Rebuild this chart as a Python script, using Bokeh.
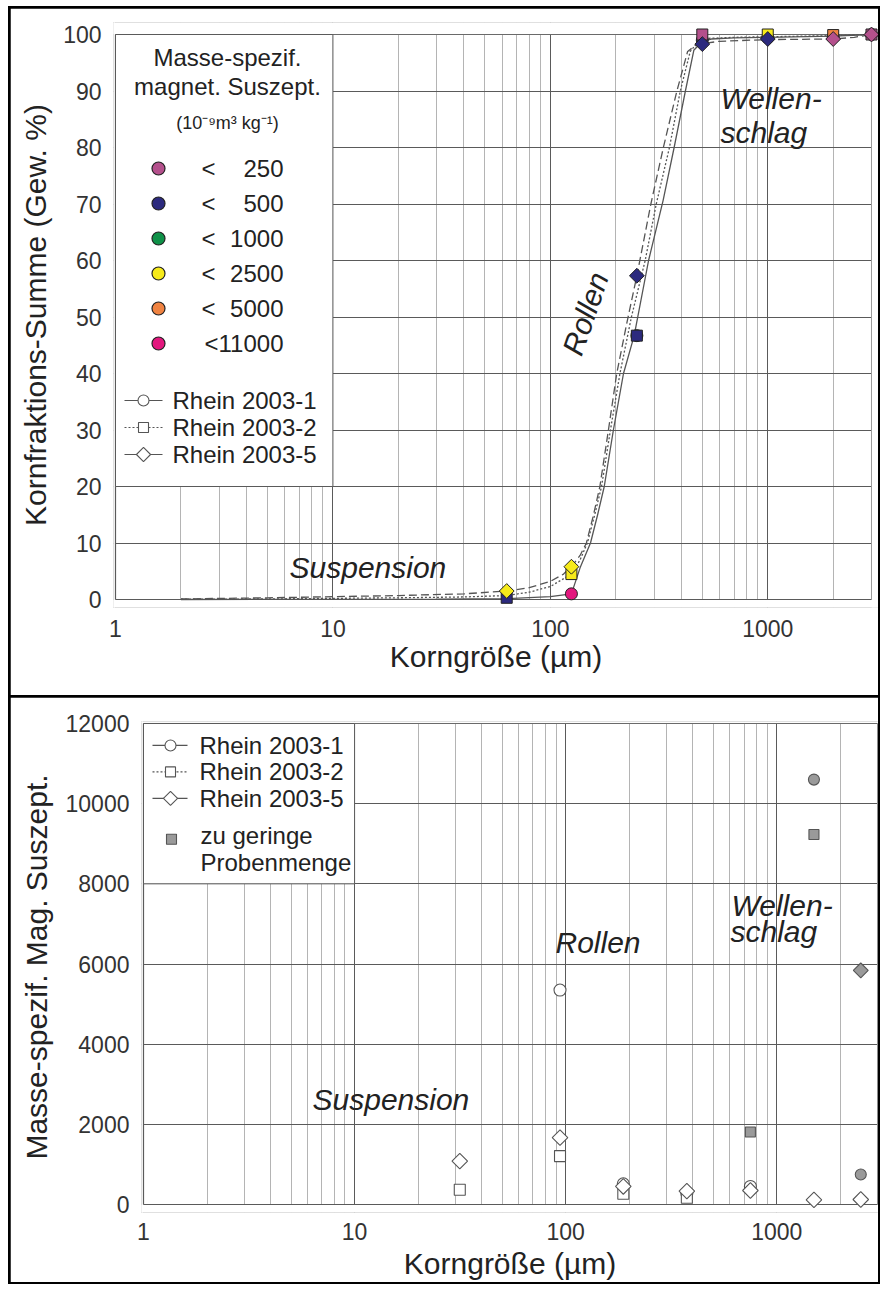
import numpy as np
from bokeh.plotting import figure
from bokeh.models import FixedTicker, NumeralTickFormatter, Range1d, Label
from bokeh.layouts import column, row
from bokeh.embed import file_html
from bokeh.resources import INLINE

FONT = "Liberation Sans"

# ---------------- data ----------------
class_limits = ["250", "500", "1000", "2500", "5000", "11000"]
class_colors = ["#b4508c", "#2c2a7e", "#0f9148", "#f6ea1a", "#f08341", "#e3177e"]
series_names = ["Rhein 2003-1", "Rhein 2003-2", "Rhein 2003-5"]

# cumulative curves (upper panel)
curve1_x = [2, 10, 30, 63, 100, 125, 137, 153, 165, 177, 195, 217, 243, 283, 330, 371, 418, 457, 500, 550, 700, 1000, 2000, 3000]
curve1_y = [0, 0.02, 0.05, 0.15, 0.5, 1.0, 5.6, 10, 15, 20, 30, 40, 46.7, 60, 70.6, 80, 90, 97.2, 98.8, 99.2, 99.4, 99.5, 99.7, 100]
curve2_x = [2, 5, 10, 20, 40, 63, 80, 100, 125, 137, 148, 160, 172, 189, 209, 236, 273, 307, 353, 396, 440, 480, 520, 700, 1000, 2000, 3000]
curve2_y = [0.05, 0.1, 0.2, 0.3, 0.45, 0.7, 1.3, 2.3, 4.5, 7, 10, 15, 20, 30, 40, 50, 60, 70, 80, 90, 97, 98.8, 99.3, 99.5, 99.6, 99.8, 100]
curve5_x = [2, 5, 10, 20, 40, 63, 80, 100, 115, 125, 137, 146.5, 158, 169, 185, 202, 225, 250, 290, 331, 382, 428, 470, 500, 600, 1000, 2000, 2500, 3000]
curve5_y = [0.1, 0.3, 0.5, 0.7, 1.0, 1.5, 2.1, 3.2, 4.5, 5.8, 7.8, 10, 15, 20, 30, 40, 49, 57.3, 70, 80, 90, 97, 98.2, 98.4, 98.8, 99.1, 99.2, 99.5, 100]

# sieve points (upper panel)
r1_top_x = [125, 250, 500, 1000, 2000, 3000]
r1_top_y = [1.0, 46.7, 99.0, 99.4, 99.6, 100.0]
r1_top_cls = ["11000", "1000", "500", "500", "11000", "250"]
r2_top_x = [63, 125, 250, 500, 1000, 2000, 3000]
r2_top_y = [0.3, 4.5, 46.7, 100.0, 100.0, 99.9, 100.0]
r2_top_cls = ["500", "2500", "500", "250", "2500", "5000", "250"]
r5_top_x = [63, 125, 250, 500, 1000, 2000, 3000]
r5_top_y = [1.5, 5.8, 57.3, 98.3, 99.2, 99.2, 100.0]
r5_top_cls = ["2500", "2500", "500", "500", "500", "250", "250"]

# lower panel: susceptibility per fraction (open = normal, grey = too little sample)
r1_bot_x = [94, 187.5, 375, 750]
r1_bot_y = [5350, 517, 283, 450]
r1_low_x = [1500, 2500]
r1_low_y = [10600, 750]
r2_bot_x = [31.5, 94, 187.5, 375]
r2_bot_y = [367, 1208, 267, 167]
r2_low_x = [750, 1500]
r2_low_y = [1810, 9230]
r5_bot_x = [31.5, 94, 187.5, 375, 750, 1500, 2500]
r5_bot_y = [1083, 1667, 450, 333, 350, 117, 125]
r5_low_x = [2500]
r5_low_y = [5840]

x_ticks = [1, 10, 100, 1000]
x_minor = [2, 3, 4, 5, 6, 7, 8, 9, 20, 30, 40, 50, 60, 70, 80, 90,
           200, 300, 400, 500, 600, 700, 800, 900, 2000, 3000]
top_yticks = [0, 10, 20, 30, 40, 50, 60, 70, 80, 90, 100]
bot_yticks = [0, 2000, 4000, 6000, 8000, 10000, 12000]

GRID_MAJOR = "#5a5a5a"
GRID_MINOR = "#b4b4b4"
LINE = "#555555"
DIAMOND = np.pi / 4


def colors_for(cls):
    return [class_colors[class_limits.index(c)] for c in cls]


def style(p, yticks, xtitle, ytitle, xl_standoff, xt_standoff, yt_standoff):
    p.outline_line_color = None
    p.background_fill_color = "white"
    p.border_fill_color = "white"
    try:
        p.frame_align = False
    except Exception:
        pass
    xt = FixedTicker(ticks=x_ticks, minor_ticks=x_minor)
    yt = FixedTicker(ticks=yticks)
    p.xaxis.ticker = xt
    p.xgrid.ticker = xt
    p.yaxis.ticker = yt
    p.ygrid.ticker = yt
    p.xaxis.formatter = NumeralTickFormatter(format="0")
    p.xgrid.grid_line_color = GRID_MAJOR
    p.xgrid.minor_grid_line_color = GRID_MINOR
    p.ygrid.grid_line_color = GRID_MAJOR
    for ax in [p.xaxis[0], p.yaxis[0]]:
        ax.axis_line_color = None
        ax.major_tick_line_color = None
        ax.minor_tick_line_color = None
        ax.major_tick_out = 0
        ax.major_tick_in = 0
        ax.minor_tick_out = 0
        ax.minor_tick_in = 0
        ax.major_label_text_font = FONT
        ax.major_label_text_font_size = "23px"
        ax.major_label_text_color = "#333333"
        ax.axis_label_text_font = FONT
        ax.axis_label_text_font_size = "30px"
        ax.axis_label_text_font_style = "normal"
        ax.axis_label_text_color = "#222222"
    p.xaxis.axis_label = xtitle
    p.yaxis.axis_label = ytitle
    p.xaxis.major_label_standoff = xl_standoff
    p.xaxis.axis_label_standoff = xt_standoff
    p.yaxis.major_label_standoff = 12
    p.yaxis.axis_label_standoff = yt_standoff


def frame(p, x0, x1, y0, y1, right_color):
    # white covers outside the data frame (range is padded so edge markers are not cut)
    big = dict(fill_color="white", line_color=None)
    p.quad(left=x0 / 2, right=x1 * 2, bottom=y0 - (y1 - y0), top=y0, **big)
    p.quad(left=x0 / 2, right=x1 * 2, bottom=y1, top=y1 + (y1 - y0), **big)
    p.quad(left=x1, right=x1 * 2, bottom=y0 - (y1 - y0), top=y1 + (y1 - y0), **big)
    p.quad(left=x0 / 2, right=x0, bottom=y0 - (y1 - y0), top=y1 + (y1 - y0), **big)
    p.line([x0, x1], [y0, y0], line_color=GRID_MAJOR, line_width=1.2)
    p.line([x0, x1], [y1, y1], line_color="#6a6a6a", line_width=1)
    p.line([x0, x0], [y0, y1], line_color=GRID_MAJOR, line_width=1.2)
    p.line([x1, x1], [y0, y1], line_color=right_color, line_width=1)


def txt(p, x, y, text, size="24px", align="left", style_="normal", angle=0, color="#222222"):
    p.add_layout(Label(x=x, y=y, text=text, text_font=FONT, text_font_size=size,
                       text_align=align, text_baseline="middle", text_font_style=style_,
                       angle=angle, angle_units="deg", text_color=color))


# ================= upper panel =================
# page px: frame x 1 -> 115, 3000 -> 871 ; y 100 -> 34, 0 -> 599
p1 = figure(width=868, height=687, x_axis_type="log",
            x_range=Range1d(10 ** (-2 / 217.42), 10 ** (763 / 217.42)),
            y_range=Range1d(-8 / 5.65, 100 + 12 / 5.65),
            output_backend="svg", toolbar_location=None,
            min_border_left=103, min_border_right=0, min_border_top=14, min_border_bottom=88)
style(p1, top_yticks, "Korngröße (µm)", "Kornfraktions-Summe (Gew. %)", 12, 0, 8)
frame(p1, 1, 3000, 0, 100, "#9a9a9a")


def tx(px):
    return 10 ** ((px - 115) / 217.42)


def ty(py):
    return (599 - py) / 5.65


# legend box
p1.quad(left=1, right=10, bottom=20, top=100, fill_color="white", line_color=GRID_MAJOR, line_width=1)

# curves
p1.line(curve1_x, curve1_y, line_color=LINE, line_width=1.3)
p1.line(curve2_x, curve2_y, line_color=LINE, line_width=1.3, line_dash="2 2")
p1.line(curve5_x, curve5_y, line_color=LINE, line_width=1.3, line_dash="8 4")

# sieve markers
p1.scatter(r1_top_x, r1_top_y, marker="circle", size=12, fill_color=colors_for(r1_top_cls),
           line_color="#222222", line_width=1)
p1.scatter(r2_top_x, r2_top_y, marker="square", size=11, fill_color=colors_for(r2_top_cls),
           line_color="#222222", line_width=1)
p1.scatter(r5_top_x, r5_top_y, marker="square", angle=DIAMOND, size=10.5,
           fill_color=colors_for(r5_top_cls), line_color="#222222", line_width=1)

# legend content
txt(p1, tx(227), ty(57), "Masse-spezif.", align="center")
txt(p1, tx(227), ty(86), "magnet. Suszept.", align="center")
txt(p1, tx(227), ty(122), "(10⁻⁹m³ kg⁻¹)", size="18px", align="center")
row_y = [ty(168 + i * 35) for i in range(len(class_limits))]
p1.scatter([tx(158)] * len(class_limits), row_y, marker="circle", size=13,
           fill_color=class_colors, line_color="#222222", line_width=1.2)
for i, lim in enumerate(class_limits):
    if len(lim) < 5:
        txt(p1, tx(201), row_y[i], "<")
        txt(p1, tx(283), row_y[i], lim, align="right")
    else:
        txt(p1, tx(283), row_y[i], "<" + lim, align="right")

leg_dash = [None, "2 2", None]
leg_marker = [("circle", 0, 11), ("square", 0, 10), ("square", DIAMOND, 10)]
for i, name in enumerate(series_names):
    yy = ty(400 + i * 27)
    if leg_dash[i]:
        p1.line([tx(124), tx(162)], [yy, yy], line_color=LINE, line_width=1.2, line_dash=leg_dash[i])
    else:
        p1.line([tx(124), tx(162)], [yy, yy], line_color=LINE, line_width=1.2)
    m, a, s = leg_marker[i]
    p1.scatter([tx(143)], [yy], marker=m, angle=a, size=s, fill_color="white", line_color=LINE, line_width=1.1)
    txt(p1, tx(172), yy, name)

# annotations
txt(p1, tx(289), ty(567), "Suspension", size="30px", style_="italic")
txt(p1, tx(585), ty(313), "Rollen", size="30px", style_="italic", align="center", angle=71)
txt(p1, tx(720), ty(98), "Wellen-", size="30px", style_="italic")
txt(p1, tx(720), ty(132), "schlag", size="30px", style_="italic")

# ================= lower panel =================
# page px: frame x 1 -> 143, 3000 -> 877 ; y 12000 -> 723, 0 -> 1205
p2 = figure(width=868, height=585, x_axis_type="log",
            x_range=Range1d(10 ** (-2 / 211.09), 10 ** (735 / 211.09)),
            y_range=Range1d(-8 * 12000 / 482, 12000 + 2 * 12000 / 482),
            output_backend="svg", toolbar_location=None,
            min_border_left=131, min_border_right=0, min_border_top=24, min_border_bottom=69)
style(p2, bot_yticks, "Korngröße (µm)", "Masse-spezif. Mag. Suszept.", 10, 4, 10)
frame(p2, 1, 3000, 0, 12000, "#8a8a8a")


def bx(px):
    return 10 ** ((px - 143) / 211.09)


def by(py):
    return (1205 - py) * 12000 / 482


p2.quad(left=1, right=10, bottom=8000, top=12000, fill_color="white", line_color=GRID_MAJOR, line_width=1)

OPEN = dict(fill_color="white", line_color=LINE, line_width=1.1)
GREY = dict(fill_color="#9a9a9a", line_color=LINE, line_width=1.1)
p2.scatter(r1_bot_x, r1_bot_y, marker="circle", size=12, **OPEN)
p2.scatter(r2_bot_x, r2_bot_y, marker="square", size=11, **OPEN)
p2.scatter(r5_bot_x, r5_bot_y, marker="square", angle=DIAMOND, size=11, **OPEN)
p2.scatter(r1_low_x, r1_low_y, marker="circle", size=11, **GREY)
p2.scatter(r2_low_x, r2_low_y, marker="square", size=10, **GREY)
p2.scatter(r5_low_x, r5_low_y, marker="square", angle=DIAMOND, size=10.5, **GREY)

for i, name in enumerate(series_names):
    yy = by(745 + i * 26.5)
    if leg_dash[i]:
        p2.line([bx(152), bx(187)], [yy, yy], line_color=LINE, line_width=1.2, line_dash=leg_dash[i])
    else:
        p2.line([bx(152), bx(187)], [yy, yy], line_color=LINE, line_width=1.2)
    m, a, s = leg_marker[i]
    p2.scatter([bx(170)], [yy], marker=m, angle=a, size=s, fill_color="white", line_color=LINE, line_width=1.1)
    txt(p2, bx(199), yy, name)
p2.scatter([bx(171)], [by(839)], marker="square", size=10, **GREY)
txt(p2, bx(200), by(835), "zu geringe")
txt(p2, bx(200), by(862), "Probenmenge")

txt(p2, bx(312), by(1100), "Suspension", size="30px", style_="italic")
txt(p2, bx(555), by(942), "Rollen", size="30px", style_="italic")
txt(p2, bx(731), by(905), "Wellen-", size="30px", style_="italic")
txt(p2, bx(730), by(931), "schlag", size="30px", style_="italic")

layout = column(row(p1), row(p2), spacing=2,
                styles={"background-color": "black", "padding": "2px", "margin": "6px 0 0 8px"})

open("out.html", "w").write(file_html(layout, INLINE))
